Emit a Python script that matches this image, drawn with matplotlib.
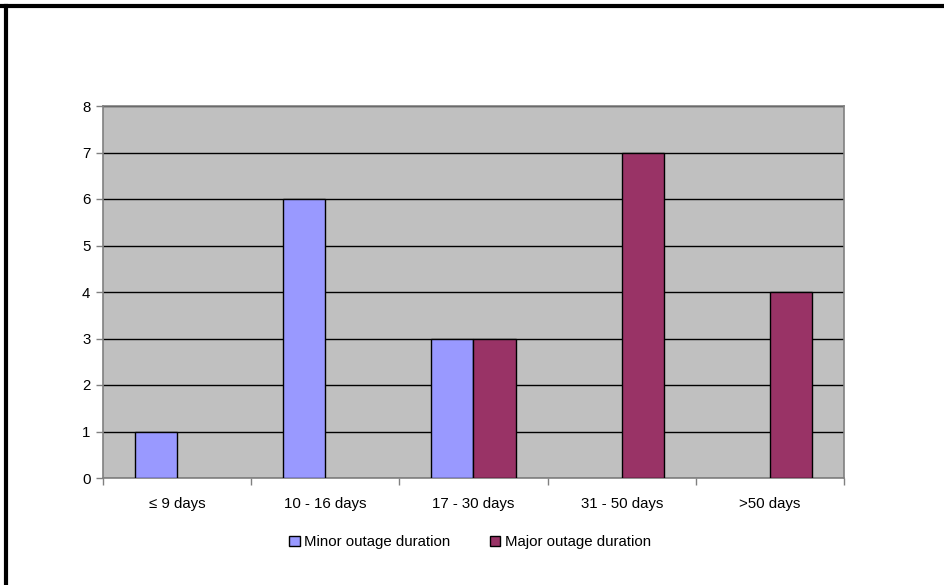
import matplotlib
matplotlib.use("Agg")
import matplotlib.pyplot as plt
from matplotlib.patches import Rectangle
from matplotlib.lines import Line2D
import numpy as np

plt.rcParams['font.family'] = ['Liberation Sans', 'DejaVu Sans']

categories = ["≤ 9 days", "10 - 16 days", "17 - 30 days", "31 - 50 days", ">50 days"]
minor = [1, 6, 3, 0, 0]
major = [0, 0, 3, 7, 4]
series_names = ["Minor outage duration", "Major outage duration"]
colors = ["#9999FF", "#993366"]

W, H = 945, 585
FS = 10.8
fig = plt.figure(figsize=(W / 100, H / 100), dpi=100)
ax = fig.add_axes([103 / W, 1 - 478 / H, (844 - 103) / W, (478 - 106) / H])
ax.set_facecolor("#C0C0C0")

x = np.arange(len(categories))
bw = 1 / 3.5
ax.bar(x - bw / 2, minor, width=bw, color=colors[0], edgecolor="black",
       linewidth=[1 if v else 0 for v in minor], zorder=3)
ax.bar(x + bw / 2, major, width=bw, color=colors[1], edgecolor="black",
       linewidth=[1 if v else 0 for v in major], zorder=3)

ax.set_xlim(-0.5, len(categories) - 0.5)
ax.set_ylim(0, 8)
ax.set_yticks(range(0, 9))
ax.yaxis.grid(True, color="black", linewidth=1)
ax.set_axisbelow(True)

ax.set_xticks(np.arange(-0.5, len(categories), 1.0))
ax.set_xticklabels([])
ax.set_xticks(x, minor=True)
ax.set_xticklabels(categories, minor=True)
ax.tick_params(axis="x", which="minor", length=0, pad=14, labelsize=FS)
ax.tick_params(axis="x", which="major", length=5, width=1, color="#808080")
ax.tick_params(axis="y", length=5, width=1, color="#808080", labelsize=FS, pad=4)

for s in ax.spines.values():
    s.set_color("#808080")
    s.set_linewidth(1.2)

# legend
handles = [Rectangle((0, 0), 1, 1, facecolor=c, edgecolor="black", linewidth=1) for c in colors]
fig.legend(handles, series_names, loc="center", bbox_to_anchor=(470 / W, 1 - 542 / H),
           ncol=2, frameon=False, fontsize=FS, handlelength=0.7, handleheight=0.7,
           handletextpad=0.3, columnspacing=2.6)

# chart border (top and left)
fig.add_artist(Line2D([0, 1], [1 - 5.5 / H, 1 - 5.5 / H], transform=fig.transFigure, color="black", linewidth=3))
fig.add_artist(Line2D([6 / W, 6 / W], [0, 1 - 5.5 / H], transform=fig.transFigure, color="black", linewidth=3))

fig.savefig("out.png", dpi=100)
